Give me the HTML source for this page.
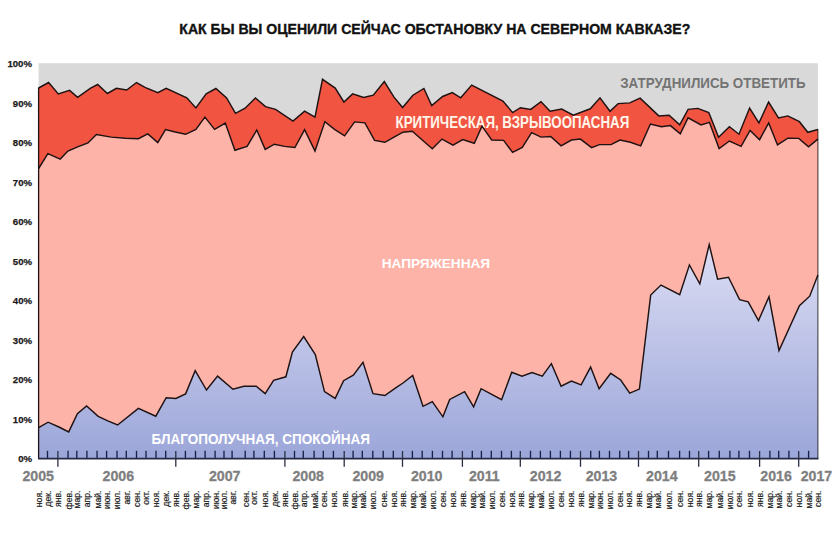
<!DOCTYPE html>
<html><head><meta charset="utf-8"><style>
html,body{margin:0;padding:0;background:#fff;width:838px;height:542px;overflow:hidden}
svg{display:block}
text{font-family:"Liberation Sans",sans-serif}
.yl{font-size:9.6px;font-weight:bold;fill:#1a1a1a;stroke:#1a1a1a;stroke-width:0.25px}
.yr{font-size:14.2px;font-weight:bold;fill:#7f7f7f;stroke:#7f7f7f;stroke-width:0.3px}
.mo{font-size:8.7px;fill:#1a1a1a;stroke:#1a1a1a;stroke-width:0.18px}
.title{font-size:14px;font-weight:bold;fill:#111;stroke:#111;stroke-width:0.35px}
.lab{font-size:12.5px;font-weight:bold}
</style></head><body>
<svg width="838" height="542" viewBox="0 0 838 542">
<defs><linearGradient id="bg" x1="0" y1="244" x2="0" y2="458.5" gradientUnits="userSpaceOnUse"><stop offset="0" stop-color="#dcddf4"/><stop offset="1" stop-color="#9ba6d9"/></linearGradient></defs>
<rect x="38.6" y="63.2" width="779.3" height="395.3" fill="#d9d9d9"/>
<polygon points="38.6,88.0 48.6,82.5 58.3,93.9 69.6,90.4 77.6,97.4 90.6,88.1 97.7,84.5 107.4,93.5 116.4,88.3 126.7,90.0 136.5,82.5 145.0,87.3 157.8,92.6 166.2,88.3 186.8,97.8 195.9,107.9 206.2,93.9 215.9,88.5 226.6,97.9 235.5,113.4 245.1,108.2 255.4,97.9 265.5,106.6 275.6,109.4 293.0,121.0 304.6,111.1 315.0,117.2 322.5,79.3 335.2,88.1 343.9,102.0 352.6,93.9 363.6,97.5 373.3,95.2 384.3,81.6 394.0,97.1 402.6,107.5 412.9,95.2 423.9,88.5 431.7,105.5 442.6,96.5 452.3,92.6 460.7,97.8 471.7,85.1 502.9,101.0 512.6,112.6 520.4,107.7 530.7,109.4 541.0,101.7 550.1,111.3 561.7,109.1 573.3,115.2 590.3,108.8 600.0,97.8 610.0,111.3 618.1,103.6 629.7,102.9 640.1,98.2 658.8,115.9 669.1,115.2 679.7,124.9 688.1,109.4 697.8,108.4 708.8,112.6 718.6,137.2 729.4,126.8 739.0,134.2 749.6,108.1 758.9,123.0 768.6,102.0 778.5,118.0 787.8,115.9 799.4,121.7 807.8,132.3 817.9,129.5 817.9,458.5 38.6,458.5" fill="#f15542"/>
<polygon points="38.6,168.5 47.9,153.7 60.2,159.1 67.9,151.1 77.6,146.8 88.0,142.9 96.4,134.5 111.2,137.1 125.4,138.2 138.4,138.7 147.8,133.9 157.8,142.6 165.5,129.6 175.2,132.0 185.6,134.3 195.9,129.4 204.9,117.1 214.6,129.4 225.3,123.1 234.9,150.3 247.1,146.4 256.8,130.0 265.2,149.4 274.3,144.2 284.6,146.4 294.9,147.5 304.6,129.6 315.0,151.1 324.9,121.6 334.5,129.4 344.6,135.8 354.6,121.9 364.9,122.9 374.6,140.4 384.9,142.3 394.0,137.1 403.0,132.2 412.3,131.3 422.0,139.7 432.3,148.8 442.0,139.1 453.0,145.1 462.7,139.5 474.3,143.3 482.0,126.1 491.7,140.0 503.6,140.4 512.6,152.4 522.3,147.5 531.6,132.6 541.0,137.1 550.7,136.5 561.1,145.9 571.4,140.0 580.4,139.1 591.6,147.7 599.4,144.6 611.0,144.6 620.0,140.0 630.4,142.3 640.7,145.9 650.4,124.0 661.4,126.8 670.4,125.6 680.3,133.9 688.1,117.8 701.0,124.9 709.4,122.3 719.1,148.5 729.4,141.0 741.1,146.4 750.1,130.5 759.6,139.7 768.7,122.9 777.5,144.9 787.8,138.2 798.8,138.4 808.5,146.8 817.9,139.1 817.9,458.5 38.6,458.5" fill="#feb3a9"/>
<polygon points="38.6,427.7 48.1,422.2 58.9,427.0 68.7,431.9 77.4,413.6 86.6,405.9 98.2,416.3 107.8,420.8 117.6,425.0 138.4,408.4 155.8,416.2 166.2,397.7 175.9,398.5 185.6,393.9 195.2,370.6 206.5,390.0 217.6,376.1 232.9,389.2 243.9,386.2 256.2,386.2 265.2,393.6 273.6,380.4 285.9,376.8 292.4,352.0 303.7,336.5 315.3,354.5 324.5,391.6 335.2,398.4 343.6,380.7 353.3,375.2 363.0,362.3 373.0,393.7 384.9,395.5 395.3,388.1 403.0,383.0 412.7,375.5 423.0,406.3 432.3,401.6 442.9,416.8 449.7,399.4 464.6,391.7 473.6,406.8 481.1,388.7 501.6,399.7 511.7,372.2 522.0,376.2 532.0,372.6 542.3,376.2 551.4,363.6 561.1,386.2 571.4,381.0 581.1,384.9 590.6,367.1 599.1,388.8 610.7,373.3 620.7,380.0 629.7,393.2 639.4,389.1 650.7,295.1 661.0,285.1 679.7,294.7 689.4,265.0 699.8,283.8 709.2,244.6 717.6,279.2 728.5,277.3 739.6,299.6 748.2,301.9 758.5,320.6 769.0,296.6 779.0,350.5 799.4,305.7 809.7,296.2 817.9,275.0 817.9,458.5 38.6,458.5" fill="url(#bg)"/>
<text x="620.2" y="87.8" class="lab" style="font-size:14.5px" fill="#747474" textLength="185.4" lengthAdjust="spacingAndGlyphs">ЗАТРУДНИЛИСЬ ОТВЕТИТЬ</text>
<text x="395.6" y="127.7" class="lab" style="font-size:15.6px" fill="#fff5ea" textLength="233.6" lengthAdjust="spacingAndGlyphs">КРИТИЧЕСКАЯ, ВЗРЫВООПАСНАЯ</text>
<text x="381.7" y="268.1" class="lab" fill="#ffffff" textLength="108.4" lengthAdjust="spacingAndGlyphs">НАПРЯЖЕННАЯ</text>
<text x="151.6" y="443.8" class="lab" style="font-size:13.8px" fill="#ffffff" textLength="218.3" lengthAdjust="spacingAndGlyphs">БЛАГОПОЛУЧНАЯ, СПОКОЙНАЯ</text>
<polyline points="38.6,88.0 48.6,82.5 58.3,93.9 69.6,90.4 77.6,97.4 90.6,88.1 97.7,84.5 107.4,93.5 116.4,88.3 126.7,90.0 136.5,82.5 145.0,87.3 157.8,92.6 166.2,88.3 186.8,97.8 195.9,107.9 206.2,93.9 215.9,88.5 226.6,97.9 235.5,113.4 245.1,108.2 255.4,97.9 265.5,106.6 275.6,109.4 293.0,121.0 304.6,111.1 315.0,117.2 322.5,79.3 335.2,88.1 343.9,102.0 352.6,93.9 363.6,97.5 373.3,95.2 384.3,81.6 394.0,97.1 402.6,107.5 412.9,95.2 423.9,88.5 431.7,105.5 442.6,96.5 452.3,92.6 460.7,97.8 471.7,85.1 502.9,101.0 512.6,112.6 520.4,107.7 530.7,109.4 541.0,101.7 550.1,111.3 561.7,109.1 573.3,115.2 590.3,108.8 600.0,97.8 610.0,111.3 618.1,103.6 629.7,102.9 640.1,98.2 658.8,115.9 669.1,115.2 679.7,124.9 688.1,109.4 697.8,108.4 708.8,112.6 718.6,137.2 729.4,126.8 739.0,134.2 749.6,108.1 758.9,123.0 768.6,102.0 778.5,118.0 787.8,115.9 799.4,121.7 807.8,132.3 817.9,129.5" fill="none" stroke="#1e1212" stroke-width="1.45" stroke-linejoin="miter" stroke-miterlimit="10"/>
<polyline points="38.6,168.5 47.9,153.7 60.2,159.1 67.9,151.1 77.6,146.8 88.0,142.9 96.4,134.5 111.2,137.1 125.4,138.2 138.4,138.7 147.8,133.9 157.8,142.6 165.5,129.6 175.2,132.0 185.6,134.3 195.9,129.4 204.9,117.1 214.6,129.4 225.3,123.1 234.9,150.3 247.1,146.4 256.8,130.0 265.2,149.4 274.3,144.2 284.6,146.4 294.9,147.5 304.6,129.6 315.0,151.1 324.9,121.6 334.5,129.4 344.6,135.8 354.6,121.9 364.9,122.9 374.6,140.4 384.9,142.3 394.0,137.1 403.0,132.2 412.3,131.3 422.0,139.7 432.3,148.8 442.0,139.1 453.0,145.1 462.7,139.5 474.3,143.3 482.0,126.1 491.7,140.0 503.6,140.4 512.6,152.4 522.3,147.5 531.6,132.6 541.0,137.1 550.7,136.5 561.1,145.9 571.4,140.0 580.4,139.1 591.6,147.7 599.4,144.6 611.0,144.6 620.0,140.0 630.4,142.3 640.7,145.9 650.4,124.0 661.4,126.8 670.4,125.6 680.3,133.9 688.1,117.8 701.0,124.9 709.4,122.3 719.1,148.5 729.4,141.0 741.1,146.4 750.1,130.5 759.6,139.7 768.7,122.9 777.5,144.9 787.8,138.2 798.8,138.4 808.5,146.8 817.9,139.1" fill="none" stroke="#1e1212" stroke-width="1.45" stroke-linejoin="miter" stroke-miterlimit="10"/>
<polyline points="38.6,427.7 48.1,422.2 58.9,427.0 68.7,431.9 77.4,413.6 86.6,405.9 98.2,416.3 107.8,420.8 117.6,425.0 138.4,408.4 155.8,416.2 166.2,397.7 175.9,398.5 185.6,393.9 195.2,370.6 206.5,390.0 217.6,376.1 232.9,389.2 243.9,386.2 256.2,386.2 265.2,393.6 273.6,380.4 285.9,376.8 292.4,352.0 303.7,336.5 315.3,354.5 324.5,391.6 335.2,398.4 343.6,380.7 353.3,375.2 363.0,362.3 373.0,393.7 384.9,395.5 395.3,388.1 403.0,383.0 412.7,375.5 423.0,406.3 432.3,401.6 442.9,416.8 449.7,399.4 464.6,391.7 473.6,406.8 481.1,388.7 501.6,399.7 511.7,372.2 522.0,376.2 532.0,372.6 542.3,376.2 551.4,363.6 561.1,386.2 571.4,381.0 581.1,384.9 590.6,367.1 599.1,388.8 610.7,373.3 620.7,380.0 629.7,393.2 639.4,389.1 650.7,295.1 661.0,285.1 679.7,294.7 689.4,265.0 699.8,283.8 709.2,244.6 717.6,279.2 728.5,277.3 739.6,299.6 748.2,301.9 758.5,320.6 769.0,296.6 779.0,350.5 799.4,305.7 809.7,296.2 817.9,275.0" fill="none" stroke="#1e1212" stroke-width="1.45" stroke-linejoin="miter" stroke-miterlimit="10"/>
<line x1="38.6" y1="87.4" x2="38.6" y2="458.5" stroke="#1e1212" stroke-width="1.3"/>
<line x1="817.9" y1="128.9" x2="817.9" y2="458.5" stroke="#000" stroke-opacity="0.62" stroke-width="1.2"/>
<line x1="38.0" y1="458.6" x2="818.5" y2="458.6" stroke="#262a44" stroke-width="1.8"/>
<line x1="47.5" y1="450.8" x2="47.5" y2="458" stroke="#1a2148" stroke-width="1.35"/>
<line x1="57.9" y1="451" x2="57.9" y2="466.8" stroke="#2a2f45" stroke-width="1.3"/>
<line x1="68.05" y1="450.8" x2="68.05" y2="458" stroke="#1a2148" stroke-width="1.35"/>
<line x1="76.8" y1="450.8" x2="76.8" y2="458" stroke="#1a2148" stroke-width="1.35"/>
<line x1="86.9" y1="450.8" x2="86.9" y2="458" stroke="#1a2148" stroke-width="1.35"/>
<line x1="97.05" y1="450.8" x2="97.05" y2="458" stroke="#1a2148" stroke-width="1.35"/>
<line x1="106.6" y1="450.8" x2="106.6" y2="458" stroke="#1a2148" stroke-width="1.35"/>
<line x1="117" y1="450.8" x2="117" y2="458" stroke="#1a2148" stroke-width="1.35"/>
<line x1="126.3" y1="450.8" x2="126.3" y2="458" stroke="#1a2148" stroke-width="1.35"/>
<line x1="136.5" y1="450.8" x2="136.5" y2="458" stroke="#1a2148" stroke-width="1.35"/>
<line x1="146.0" y1="450.8" x2="146.0" y2="458" stroke="#1a2148" stroke-width="1.35"/>
<line x1="156.0" y1="450.8" x2="156.0" y2="458" stroke="#1a2148" stroke-width="1.35"/>
<line x1="165.7" y1="450.8" x2="165.7" y2="458" stroke="#1a2148" stroke-width="1.35"/>
<line x1="175.8" y1="451" x2="175.8" y2="466.8" stroke="#2a2f45" stroke-width="1.3"/>
<line x1="185.4" y1="450.8" x2="185.4" y2="458" stroke="#1a2148" stroke-width="1.35"/>
<line x1="195.5" y1="450.8" x2="195.5" y2="458" stroke="#1a2148" stroke-width="1.35"/>
<line x1="205.1" y1="450.8" x2="205.1" y2="458" stroke="#1a2148" stroke-width="1.35"/>
<line x1="215.1" y1="450.8" x2="215.1" y2="458" stroke="#1a2148" stroke-width="1.35"/>
<line x1="224.0" y1="450.8" x2="224.0" y2="458" stroke="#1a2148" stroke-width="1.35"/>
<line x1="232.1" y1="450.8" x2="232.1" y2="458" stroke="#1a2148" stroke-width="1.35"/>
<line x1="245.2" y1="450.8" x2="245.2" y2="458" stroke="#1a2148" stroke-width="1.35"/>
<line x1="253.9" y1="450.8" x2="253.9" y2="458" stroke="#1a2148" stroke-width="1.35"/>
<line x1="264.3" y1="450.8" x2="264.3" y2="458" stroke="#1a2148" stroke-width="1.35"/>
<line x1="274.4" y1="450.8" x2="274.4" y2="458" stroke="#1a2148" stroke-width="1.35"/>
<line x1="284.9" y1="451" x2="284.9" y2="466.8" stroke="#2a2f45" stroke-width="1.3"/>
<line x1="294.5" y1="450.8" x2="294.5" y2="458" stroke="#1a2148" stroke-width="1.35"/>
<line x1="303.3" y1="450.8" x2="303.3" y2="458" stroke="#1a2148" stroke-width="1.35"/>
<line x1="314.1" y1="450.8" x2="314.1" y2="458" stroke="#1a2148" stroke-width="1.35"/>
<line x1="323.3" y1="450.8" x2="323.3" y2="458" stroke="#1a2148" stroke-width="1.35"/>
<line x1="333.4" y1="450.8" x2="333.4" y2="458" stroke="#1a2148" stroke-width="1.35"/>
<line x1="344.2" y1="451" x2="344.2" y2="466.8" stroke="#2a2f45" stroke-width="1.3"/>
<line x1="353.1" y1="450.8" x2="353.1" y2="458" stroke="#1a2148" stroke-width="1.35"/>
<line x1="362.3" y1="450.8" x2="362.3" y2="458" stroke="#1a2148" stroke-width="1.35"/>
<line x1="372.8" y1="450.8" x2="372.8" y2="458" stroke="#1a2148" stroke-width="1.35"/>
<line x1="383.2" y1="450.8" x2="383.2" y2="458" stroke="#1a2148" stroke-width="1.35"/>
<line x1="393.3" y1="450.8" x2="393.3" y2="458" stroke="#1a2148" stroke-width="1.35"/>
<line x1="402.5" y1="451" x2="402.5" y2="466.8" stroke="#2a2f45" stroke-width="1.3"/>
<line x1="412.4" y1="450.8" x2="412.4" y2="458" stroke="#1a2148" stroke-width="1.35"/>
<line x1="422.2" y1="450.8" x2="422.2" y2="458" stroke="#1a2148" stroke-width="1.35"/>
<line x1="432.4" y1="450.8" x2="432.4" y2="458" stroke="#1a2148" stroke-width="1.35"/>
<line x1="442.5" y1="450.8" x2="442.5" y2="458" stroke="#1a2148" stroke-width="1.35"/>
<line x1="452.1" y1="450.8" x2="452.1" y2="458" stroke="#1a2148" stroke-width="1.35"/>
<line x1="462.4" y1="451" x2="462.4" y2="466.8" stroke="#2a2f45" stroke-width="1.3"/>
<line x1="472.3" y1="450.8" x2="472.3" y2="458" stroke="#1a2148" stroke-width="1.35"/>
<line x1="481.4" y1="450.8" x2="481.4" y2="458" stroke="#1a2148" stroke-width="1.35"/>
<line x1="491.3" y1="450.8" x2="491.3" y2="458" stroke="#1a2148" stroke-width="1.35"/>
<line x1="501.5" y1="450.8" x2="501.5" y2="458" stroke="#1a2148" stroke-width="1.35"/>
<line x1="511.4" y1="450.8" x2="511.4" y2="458" stroke="#1a2148" stroke-width="1.35"/>
<line x1="520.3" y1="451" x2="520.3" y2="466.8" stroke="#2a2f45" stroke-width="1.3"/>
<line x1="530.5" y1="450.8" x2="530.5" y2="458" stroke="#1a2148" stroke-width="1.35"/>
<line x1="540.4" y1="450.8" x2="540.4" y2="458" stroke="#1a2148" stroke-width="1.35"/>
<line x1="550.4" y1="450.8" x2="550.4" y2="458" stroke="#1a2148" stroke-width="1.35"/>
<line x1="560.4" y1="450.8" x2="560.4" y2="458" stroke="#1a2148" stroke-width="1.35"/>
<line x1="570.45" y1="450.8" x2="570.45" y2="458" stroke="#1a2148" stroke-width="1.35"/>
<line x1="580.5" y1="451" x2="580.5" y2="466.8" stroke="#2a2f45" stroke-width="1.3"/>
<line x1="590.7" y1="450.8" x2="590.7" y2="458" stroke="#1a2148" stroke-width="1.35"/>
<line x1="599.4" y1="450.8" x2="599.4" y2="458" stroke="#1a2148" stroke-width="1.35"/>
<line x1="609.5" y1="450.8" x2="609.5" y2="458" stroke="#1a2148" stroke-width="1.35"/>
<line x1="619.7" y1="450.8" x2="619.7" y2="458" stroke="#1a2148" stroke-width="1.35"/>
<line x1="628.6" y1="450.8" x2="628.6" y2="458" stroke="#1a2148" stroke-width="1.35"/>
<line x1="638.5" y1="451" x2="638.5" y2="466.8" stroke="#2a2f45" stroke-width="1.3"/>
<line x1="648.5" y1="450.8" x2="648.5" y2="458" stroke="#1a2148" stroke-width="1.35"/>
<line x1="657.3" y1="450.8" x2="657.3" y2="458" stroke="#1a2148" stroke-width="1.35"/>
<line x1="668.5" y1="450.8" x2="668.5" y2="458" stroke="#1a2148" stroke-width="1.35"/>
<line x1="679.6" y1="450.8" x2="679.6" y2="458" stroke="#1a2148" stroke-width="1.35"/>
<line x1="689.5" y1="450.8" x2="689.5" y2="458" stroke="#1a2148" stroke-width="1.35"/>
<line x1="698.7" y1="451" x2="698.7" y2="466.8" stroke="#2a2f45" stroke-width="1.3"/>
<line x1="708.6" y1="450.8" x2="708.6" y2="458" stroke="#1a2148" stroke-width="1.35"/>
<line x1="719.3" y1="450.8" x2="719.3" y2="458" stroke="#1a2148" stroke-width="1.35"/>
<line x1="729.9" y1="450.8" x2="729.9" y2="458" stroke="#1a2148" stroke-width="1.35"/>
<line x1="738.9" y1="450.8" x2="738.9" y2="458" stroke="#1a2148" stroke-width="1.35"/>
<line x1="749.5" y1="450.8" x2="749.5" y2="458" stroke="#1a2148" stroke-width="1.35"/>
<line x1="759.6" y1="451" x2="759.6" y2="466.8" stroke="#2a2f45" stroke-width="1.3"/>
<line x1="769.9" y1="450.8" x2="769.9" y2="458" stroke="#1a2148" stroke-width="1.35"/>
<line x1="778.7" y1="450.8" x2="778.7" y2="458" stroke="#1a2148" stroke-width="1.35"/>
<line x1="788.9" y1="450.8" x2="788.9" y2="458" stroke="#1a2148" stroke-width="1.35"/>
<line x1="798.7" y1="451" x2="798.7" y2="466.8" stroke="#2a2f45" stroke-width="1.3"/>
<line x1="808.6" y1="450.8" x2="808.6" y2="458" stroke="#1a2148" stroke-width="1.35"/>
<text x="32" y="67.0" text-anchor="end" class="yl">100%</text>
<text x="32" y="106.5" text-anchor="end" class="yl">90%</text>
<text x="32" y="146.1" text-anchor="end" class="yl">80%</text>
<text x="32" y="185.6" text-anchor="end" class="yl">70%</text>
<text x="32" y="225.1" text-anchor="end" class="yl">60%</text>
<text x="32" y="264.7" text-anchor="end" class="yl">50%</text>
<text x="32" y="304.2" text-anchor="end" class="yl">40%</text>
<text x="32" y="343.7" text-anchor="end" class="yl">30%</text>
<text x="32" y="383.2" text-anchor="end" class="yl">20%</text>
<text x="32" y="422.8" text-anchor="end" class="yl">10%</text>
<text x="32" y="462.3" text-anchor="end" class="yl">0%</text>
<text x="22.4" y="480.5" class="yr">2005</text>
<text x="102.6" y="480.5" class="yr">2006</text>
<text x="208.9" y="480.5" class="yr">2007</text>
<text x="292.4" y="480.5" class="yr">2008</text>
<text x="352.4" y="480.5" class="yr">2009</text>
<text x="410.9" y="480.5" class="yr">2010</text>
<text x="468.9" y="480.5" class="yr">2011</text>
<text x="529.8" y="480.5" class="yr">2012</text>
<text x="585.7" y="480.5" class="yr">2013</text>
<text x="646.1" y="480.5" class="yr">2014</text>
<text x="704" y="480.5" class="yr">2015</text>
<text x="760.3" y="480.5" class="yr">2016</text>
<text x="800.7" y="480.5" class="yr">2017</text>
<text transform="translate(41.7,490.5) rotate(-90)" text-anchor="end" class="mo">ноя.</text>
<text transform="translate(50.9,490.5) rotate(-90)" text-anchor="end" class="mo">дек.</text>
<text transform="translate(61.3,490.5) rotate(-90)" text-anchor="end" class="mo">янв.</text>
<text transform="translate(71.5,490.5) rotate(-90)" text-anchor="end" class="mo">фев.</text>
<text transform="translate(80.2,490.5) rotate(-90)" text-anchor="end" class="mo">мар.</text>
<text transform="translate(90.3,490.5) rotate(-90)" text-anchor="end" class="mo">апр.</text>
<text transform="translate(100.5,490.5) rotate(-90)" text-anchor="end" class="mo">май.</text>
<text transform="translate(110.0,490.5) rotate(-90)" text-anchor="end" class="mo">июн.</text>
<text transform="translate(120.4,490.5) rotate(-90)" text-anchor="end" class="mo">июл.</text>
<text transform="translate(129.7,490.5) rotate(-90)" text-anchor="end" class="mo">авг.</text>
<text transform="translate(139.9,490.5) rotate(-90)" text-anchor="end" class="mo">сен.</text>
<text transform="translate(149.4,490.5) rotate(-90)" text-anchor="end" class="mo">окт.</text>
<text transform="translate(159.4,490.5) rotate(-90)" text-anchor="end" class="mo">ноя.</text>
<text transform="translate(169.1,490.5) rotate(-90)" text-anchor="end" class="mo">дек.</text>
<text transform="translate(179.2,490.5) rotate(-90)" text-anchor="end" class="mo">янв.</text>
<text transform="translate(188.8,490.5) rotate(-90)" text-anchor="end" class="mo">фев.</text>
<text transform="translate(198.9,490.5) rotate(-90)" text-anchor="end" class="mo">мар.</text>
<text transform="translate(208.5,490.5) rotate(-90)" text-anchor="end" class="mo">апр.</text>
<text transform="translate(218.5,490.5) rotate(-90)" text-anchor="end" class="mo">июн.</text>
<text transform="translate(227.4,490.5) rotate(-90)" text-anchor="end" class="mo">июл.</text>
<text transform="translate(235.5,490.5) rotate(-90)" text-anchor="end" class="mo">авг.</text>
<text transform="translate(248.6,490.5) rotate(-90)" text-anchor="end" class="mo">сен.</text>
<text transform="translate(257.3,490.5) rotate(-90)" text-anchor="end" class="mo">окт.</text>
<text transform="translate(267.7,490.5) rotate(-90)" text-anchor="end" class="mo">ноя.</text>
<text transform="translate(277.8,490.5) rotate(-90)" text-anchor="end" class="mo">дек.</text>
<text transform="translate(288.3,490.5) rotate(-90)" text-anchor="end" class="mo">янв.</text>
<text transform="translate(297.9,490.5) rotate(-90)" text-anchor="end" class="mo">фев.</text>
<text transform="translate(306.7,490.5) rotate(-90)" text-anchor="end" class="mo">апр.</text>
<text transform="translate(317.5,490.5) rotate(-90)" text-anchor="end" class="mo">май.</text>
<text transform="translate(326.7,490.5) rotate(-90)" text-anchor="end" class="mo">сен.</text>
<text transform="translate(336.8,490.5) rotate(-90)" text-anchor="end" class="mo">ноя.</text>
<text transform="translate(347.6,490.5) rotate(-90)" text-anchor="end" class="mo">янв.</text>
<text transform="translate(356.5,490.5) rotate(-90)" text-anchor="end" class="mo">мар.</text>
<text transform="translate(365.7,490.5) rotate(-90)" text-anchor="end" class="mo">май.</text>
<text transform="translate(376.2,490.5) rotate(-90)" text-anchor="end" class="mo">июл.</text>
<text transform="translate(386.6,490.5) rotate(-90)" text-anchor="end" class="mo">сне.</text>
<text transform="translate(396.7,490.5) rotate(-90)" text-anchor="end" class="mo">ноя.</text>
<text transform="translate(405.9,490.5) rotate(-90)" text-anchor="end" class="mo">янв.</text>
<text transform="translate(415.8,490.5) rotate(-90)" text-anchor="end" class="mo">мар.</text>
<text transform="translate(425.6,490.5) rotate(-90)" text-anchor="end" class="mo">май.</text>
<text transform="translate(435.8,490.5) rotate(-90)" text-anchor="end" class="mo">июл.</text>
<text transform="translate(445.9,490.5) rotate(-90)" text-anchor="end" class="mo">сен.</text>
<text transform="translate(455.5,490.5) rotate(-90)" text-anchor="end" class="mo">ноя.</text>
<text transform="translate(465.8,490.5) rotate(-90)" text-anchor="end" class="mo">янв.</text>
<text transform="translate(475.7,490.5) rotate(-90)" text-anchor="end" class="mo">мар.</text>
<text transform="translate(484.8,490.5) rotate(-90)" text-anchor="end" class="mo">май.</text>
<text transform="translate(494.7,490.5) rotate(-90)" text-anchor="end" class="mo">июл.</text>
<text transform="translate(504.9,490.5) rotate(-90)" text-anchor="end" class="mo">сен.</text>
<text transform="translate(514.8,490.5) rotate(-90)" text-anchor="end" class="mo">ноя.</text>
<text transform="translate(523.7,490.5) rotate(-90)" text-anchor="end" class="mo">янв.</text>
<text transform="translate(533.9,490.5) rotate(-90)" text-anchor="end" class="mo">мар.</text>
<text transform="translate(543.8,490.5) rotate(-90)" text-anchor="end" class="mo">май.</text>
<text transform="translate(553.8,490.5) rotate(-90)" text-anchor="end" class="mo">июл.</text>
<text transform="translate(563.8,490.5) rotate(-90)" text-anchor="end" class="mo">сен.</text>
<text transform="translate(573.9,490.5) rotate(-90)" text-anchor="end" class="mo">ноя.</text>
<text transform="translate(583.9,490.5) rotate(-90)" text-anchor="end" class="mo">янв.</text>
<text transform="translate(594.1,490.5) rotate(-90)" text-anchor="end" class="mo">мар.</text>
<text transform="translate(602.8,490.5) rotate(-90)" text-anchor="end" class="mo">июн.</text>
<text transform="translate(612.9,490.5) rotate(-90)" text-anchor="end" class="mo">июл.</text>
<text transform="translate(623.1,490.5) rotate(-90)" text-anchor="end" class="mo">сен.</text>
<text transform="translate(632.0,490.5) rotate(-90)" text-anchor="end" class="mo">ноя.</text>
<text transform="translate(641.9,490.5) rotate(-90)" text-anchor="end" class="mo">янв.</text>
<text transform="translate(651.9,490.5) rotate(-90)" text-anchor="end" class="mo">мар.</text>
<text transform="translate(660.7,490.5) rotate(-90)" text-anchor="end" class="mo">май.</text>
<text transform="translate(671.9,490.5) rotate(-90)" text-anchor="end" class="mo">июл.</text>
<text transform="translate(683.0,490.5) rotate(-90)" text-anchor="end" class="mo">сен.</text>
<text transform="translate(692.9,490.5) rotate(-90)" text-anchor="end" class="mo">ноя.</text>
<text transform="translate(702.1,490.5) rotate(-90)" text-anchor="end" class="mo">янв.</text>
<text transform="translate(712.0,490.5) rotate(-90)" text-anchor="end" class="mo">мар.</text>
<text transform="translate(722.7,490.5) rotate(-90)" text-anchor="end" class="mo">май.</text>
<text transform="translate(733.3,490.5) rotate(-90)" text-anchor="end" class="mo">июл.</text>
<text transform="translate(742.3,490.5) rotate(-90)" text-anchor="end" class="mo">сен.</text>
<text transform="translate(752.9,490.5) rotate(-90)" text-anchor="end" class="mo">ноя.</text>
<text transform="translate(763.0,490.5) rotate(-90)" text-anchor="end" class="mo">янв.</text>
<text transform="translate(773.3,490.5) rotate(-90)" text-anchor="end" class="mo">мар.</text>
<text transform="translate(782.1,490.5) rotate(-90)" text-anchor="end" class="mo">май.</text>
<text transform="translate(792.3,490.5) rotate(-90)" text-anchor="end" class="mo">сен.</text>
<text transform="translate(802.1,490.5) rotate(-90)" text-anchor="end" class="mo">нол.</text>
<text transform="translate(812.0,490.5) rotate(-90)" text-anchor="end" class="mo">май.</text>
<text transform="translate(821.2,490.5) rotate(-90)" text-anchor="end" class="mo">сен.</text>
<text x="179.3" y="34.2" class="title" textLength="511" lengthAdjust="spacingAndGlyphs">КАК БЫ ВЫ ОЦЕНИЛИ СЕЙЧАС ОБСТАНОВКУ НА СЕВЕРНОМ КАВКАЗЕ?</text>
</svg>
</body></html>
